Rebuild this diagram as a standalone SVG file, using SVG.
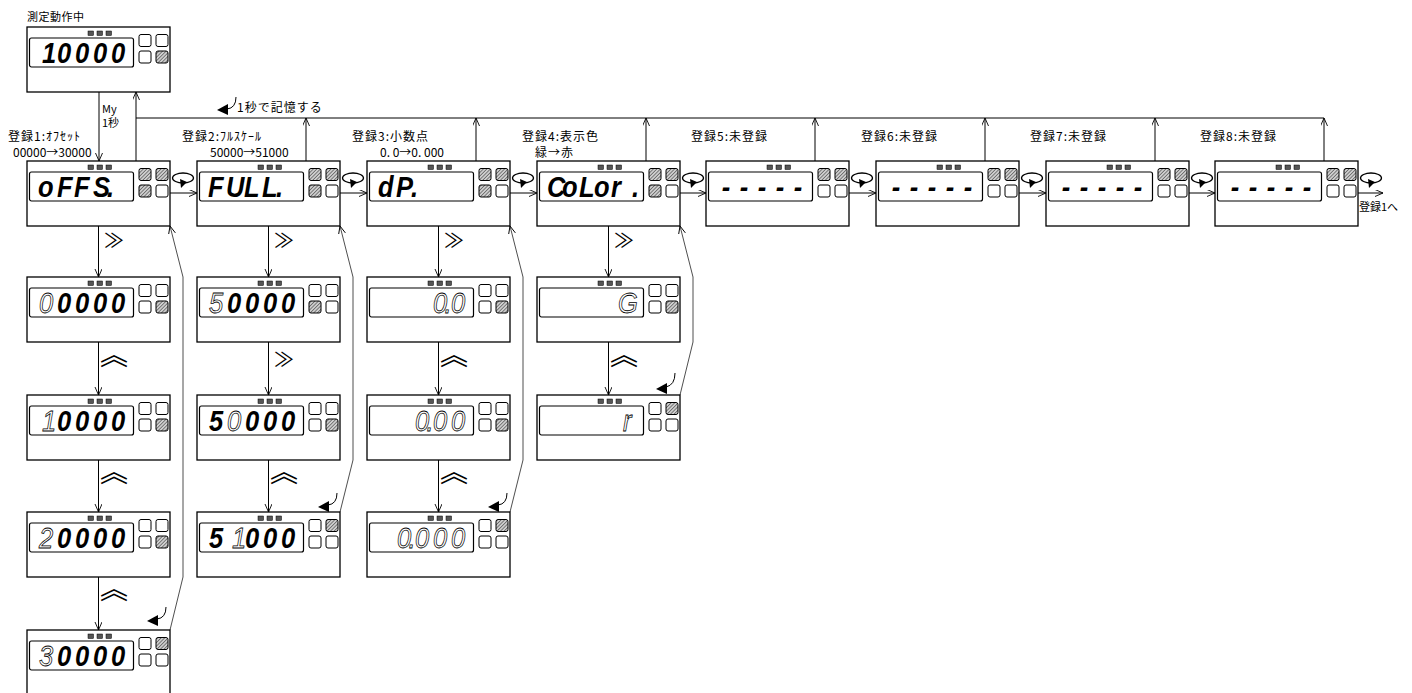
<svg xmlns="http://www.w3.org/2000/svg" xmlns:xlink="http://www.w3.org/1999/xlink" width="1412" height="693" viewBox="0 0 1412 693">
<style>
.bx{fill:#fff;stroke:#000;stroke-width:1.3}
.ind{fill:#555;stroke:#000;stroke-width:.5}
.dsp{fill:none;stroke:#000;stroke-width:1.2}
.s{fill:#fff;stroke:#000;stroke-width:1}
.h{fill:url(#hatch)}
.seg{font-family:"Liberation Sans",Arial,sans-serif;font-size:30px;font-weight:bold;font-style:italic;fill:#000}
.o{font-weight:normal;fill:#fff;stroke:#000;stroke-width:.8}
.jp{font-family:"Noto Sans CJK JP",sans-serif;font-size:12px;fill:#000}
.lb{letter-spacing:1px}
.ln{fill:none;stroke:#000;stroke-width:1}
.rt{fill:none;stroke:#222;stroke-width:.8}
.chev{font-family:"Noto Sans CJK JP",sans-serif;font-size:20px;text-anchor:middle;fill:#000}
.up{font-size:28px}
.loop{fill:none;stroke:#000;stroke-width:1.3}
.fk{fill:#000;stroke:none}
</style>
<defs>
<pattern id="hatch" width="2.5" height="2.5" patternUnits="userSpaceOnUse" patternTransform="rotate(45)"><rect width="2.5" height="2.5" fill="#cfcfcf"/><line x1="0" y1="0" x2="0" y2="2.5" stroke="#333" stroke-width="1.1"/></pattern>
<marker id="ar" markerWidth="10" markerHeight="8" refX="8" refY="3.5" orient="auto" markerUnits="userSpaceOnUse"><path d="M0,0 L8,3.5 L0,7" fill="none" stroke="#000" stroke-width="0.9"/></marker>
<g id="frame"><rect class="bx" width="143" height="65"/><rect class="ind" x="61" y="4" width="5.5" height="4.5"/><rect class="ind" x="70" y="4" width="5.5" height="4.5"/><rect class="ind" x="79" y="4" width="5.5" height="4.5"/><rect class="dsp" x="2.5" y="11" width="104" height="29" rx="2"/></g>
</defs>
<rect width="1412" height="693" fill="#fff"/>

<g id="labels">
<text class="jp" x="27" y="21" style="font-size:11px;letter-spacing:.5px">測定動作中</text>
<text class="jp" x="102" y="113" style="font-size:11px">My</text>
<text class="jp" x="102" y="127" style="font-size:11px">1秒</text>
<text class="jp lb" x="237" y="112">1秒で記憶する</text>
<text class="jp lb" x="8" y="141">登録1:ｵﾌｾｯﾄ</text>
<text class="jp" x="13" y="157">00000→30000</text>
<text class="jp lb" x="182" y="141">登録2:ﾌﾙｽｹｰﾙ</text>
<text class="jp" x="210" y="157">50000→51000</text>
<text class="jp lb" x="352" y="141">登録3:小数点</text>
<text class="jp" x="380" y="157">0. 0→0. 000</text>
<text class="jp lb" x="522" y="141">登録4:表示色</text>
<text class="jp lb" x="535" y="157">緑→赤</text>
<text class="jp lb" x="691" y="141">登録5:未登録</text>
<text class="jp lb" x="861" y="141">登録6:未登録</text>
<text class="jp lb" x="1030" y="141">登録7:未登録</text>
<text class="jp lb" x="1200" y="141">登録8:未登録</text>
<text class="jp" x="1359" y="211" style="font-size:11px">登録1へ</text>
</g>

<g id="connectors">
<line class="ln" x1="99" y1="92" x2="99" y2="161" marker-end="url(#ar)"/>
<line class="ln" x1="136" y1="161" x2="136" y2="92" marker-end="url(#ar)"/>
<line class="ln" x1="136" y1="118" x2="1324" y2="118"/>
<line class="ln" x1="306" y1="161" x2="306" y2="118" marker-end="url(#ar)"/>
<line class="ln" x1="476" y1="161" x2="476" y2="118" marker-end="url(#ar)"/>
<line class="ln" x1="646" y1="161" x2="646" y2="118" marker-end="url(#ar)"/>
<line class="ln" x1="815" y1="161" x2="815" y2="118" marker-end="url(#ar)"/>
<line class="ln" x1="985" y1="161" x2="985" y2="118" marker-end="url(#ar)"/>
<line class="ln" x1="1155" y1="161" x2="1155" y2="118" marker-end="url(#ar)"/>
<line class="ln" x1="1324" y1="161" x2="1324" y2="118" marker-end="url(#ar)"/>
<line class="ln" x1="170" y1="193" x2="197" y2="193" marker-end="url(#ar)"/>
<line class="ln" x1="340" y1="193" x2="367" y2="193" marker-end="url(#ar)"/>
<line class="ln" x1="510" y1="193" x2="537" y2="193" marker-end="url(#ar)"/>
<line class="ln" x1="680" y1="193" x2="706" y2="193" marker-end="url(#ar)"/>
<line class="ln" x1="849" y1="193" x2="876" y2="193" marker-end="url(#ar)"/>
<line class="ln" x1="1019" y1="193" x2="1046" y2="193" marker-end="url(#ar)"/>
<line class="ln" x1="1189" y1="193" x2="1215" y2="193" marker-end="url(#ar)"/>
<line class="ln" x1="1358" y1="193" x2="1383" y2="193" marker-end="url(#ar)"/>
<g id="loops">
<ellipse class="loop" cx="183" cy="178" rx="10.5" ry="5"/><polygon class="fk" points="180,179 187,182 181,188"/>
<ellipse class="loop" cx="353" cy="178" rx="10.5" ry="5"/><polygon class="fk" points="350,179 357,182 351,188"/>
<ellipse class="loop" cx="523" cy="178" rx="10.5" ry="5"/><polygon class="fk" points="520,179 527,182 521,188"/>
<ellipse class="loop" cx="693" cy="178" rx="10.5" ry="5"/><polygon class="fk" points="690,179 697,182 691,188"/>
<ellipse class="loop" cx="862" cy="178" rx="10.5" ry="5"/><polygon class="fk" points="859,179 866,182 860,188"/>
<ellipse class="loop" cx="1032" cy="178" rx="10.5" ry="5"/><polygon class="fk" points="1029,179 1036,182 1030,188"/>
<ellipse class="loop" cx="1202" cy="178" rx="10.5" ry="5"/><polygon class="fk" points="1199,179 1206,182 1200,188"/>
<ellipse class="loop" cx="1371" cy="178" rx="10.5" ry="5"/><polygon class="fk" points="1368,179 1375,182 1369,188"/>
</g>
<line class="ln" x1="98.5" y1="226" x2="98.5" y2="277" marker-end="url(#ar)"/>
<line class="ln" x1="98.5" y1="342" x2="98.5" y2="395" marker-end="url(#ar)"/>
<line class="ln" x1="98.5" y1="460" x2="98.5" y2="512" marker-end="url(#ar)"/>
<line class="ln" x1="98.5" y1="577" x2="98.5" y2="630" marker-end="url(#ar)"/>
<line class="ln" x1="268.5" y1="226" x2="268.5" y2="277" marker-end="url(#ar)"/>
<line class="ln" x1="268.5" y1="342" x2="268.5" y2="395" marker-end="url(#ar)"/>
<line class="ln" x1="268.5" y1="460" x2="268.5" y2="512" marker-end="url(#ar)"/>
<line class="ln" x1="438.5" y1="226" x2="438.5" y2="277" marker-end="url(#ar)"/>
<line class="ln" x1="438.5" y1="342" x2="438.5" y2="395" marker-end="url(#ar)"/>
<line class="ln" x1="438.5" y1="460" x2="438.5" y2="512" marker-end="url(#ar)"/>
<line class="ln" x1="608.5" y1="226" x2="608.5" y2="277" marker-end="url(#ar)"/>
<line class="ln" x1="608.5" y1="342" x2="608.5" y2="395" marker-end="url(#ar)"/>
<text class="chev" x="114" y="248">≫</text>
<text class="chev up" x="114" y="365">︽</text>
<text class="chev up" x="114" y="482">︽</text>
<text class="chev up" x="114" y="599">︽</text>
<text class="chev" x="284" y="248">≫</text>
<text class="chev" x="284" y="367">≫</text>
<text class="chev up" x="284" y="482">︽</text>
<text class="chev" x="454" y="248">≫</text>
<text class="chev up" x="454" y="365">︽</text>
<text class="chev up" x="454" y="482">︽</text>
<text class="chev" x="624" y="248">≫</text>
<text class="chev up" x="624" y="365">︽</text>
<polyline class="rt" points="170,630 183,577 183,277 170,226" marker-end="url(#ar)"/>
<polyline class="rt" points="340,512 353,460 353,277 340,226" marker-end="url(#ar)"/>
<polyline class="rt" points="510,512 523,460 523,277 510,226" marker-end="url(#ar)"/>
<polyline class="rt" points="680,395 693,342 693,277 680,226" marker-end="url(#ar)"/>
<g id="hold-marks">
<path class="ln" d="M236,97 Q236,108 227,109"/><polygon class="fk" points="217,110 228,104 228,115"/>
<path class="ln" d="M166,607 Q166,618 157,619"/><polygon class="fk" points="147,621 158,615 158,626"/>
<path class="ln" d="M337,493 Q337,504 328,505"/><polygon class="fk" points="318,507 329,501 329,512"/>
<path class="ln" d="M507,493 Q507,504 498,505"/><polygon class="fk" points="488,507 499,501 499,512"/>
<path class="ln" d="M675,373 Q675,385 666,387"/><polygon class="fk" points="656,389 667,383 667,394"/>
</g>
</g>

<g id="n-top" transform="translate(27,27)"><use href="#frame"/><rect class="s" x="112" y="7.5" width="12" height="12" rx="2"/><rect class="s" x="129" y="7.5" width="12" height="12" rx="2"/><rect class="s" x="112" y="24" width="12" height="12" rx="2"/><rect class="s h" x="129" y="24" width="12" height="12" rx="2"/><text class="seg" transform="scale(.85 1)" x="17.6 35.3 56.5 77.6 98.8" y="36">10000</text></g>

<g id="n-r1c1" transform="translate(27,161)"><use href="#frame"/><rect class="s h" x="112" y="7.5" width="12" height="12" rx="2"/><rect class="s h" x="129" y="7.5" width="12" height="12" rx="2"/><rect class="s h" x="112" y="24" width="12" height="12" rx="2"/><rect class="s" x="129" y="24" width="12" height="12" rx="2"/><text class="seg" transform="scale(.85 1)" x="12.9 35.3 55.3 77.6 94.1" y="36">oFFS.</text></g>
<g id="n-r1c2" transform="translate(197,161)"><use href="#frame"/><rect class="s h" x="112" y="7.5" width="12" height="12" rx="2"/><rect class="s h" x="129" y="7.5" width="12" height="12" rx="2"/><rect class="s h" x="112" y="24" width="12" height="12" rx="2"/><rect class="s" x="129" y="24" width="12" height="12" rx="2"/><text class="seg" transform="scale(.85 1)" x="12.9 34.1 55.3 76.5 92.9" y="36">FULL.</text></g>
<g id="n-r1c3" transform="translate(367,161)"><use href="#frame"/><rect class="s h" x="112" y="7.5" width="12" height="12" rx="2"/><rect class="s h" x="129" y="7.5" width="12" height="12" rx="2"/><rect class="s h" x="112" y="24" width="12" height="12" rx="2"/><rect class="s" x="129" y="24" width="12" height="12" rx="2"/><text class="seg" transform="scale(.85 1)" x="12.9 34.1 51.8" y="36">dP.</text></g>
<g id="n-r1c4" transform="translate(537,161)"><use href="#frame"/><rect class="s h" x="112" y="7.5" width="12" height="12" rx="2"/><rect class="s h" x="129" y="7.5" width="12" height="12" rx="2"/><rect class="s h" x="112" y="24" width="12" height="12" rx="2"/><rect class="s" x="129" y="24" width="12" height="12" rx="2"/><text class="seg" transform="scale(.85 1)" x="11.8 29.4 49.4 67.1 87.1 111.8" y="36">CoLor.</text></g>
<g id="n-r1c5" transform="translate(706,161)"><use href="#frame"/><rect class="s h" x="112" y="7.5" width="12" height="12" rx="2"/><rect class="s h" x="129" y="7.5" width="12" height="12" rx="2"/><rect class="s" x="112" y="24" width="12" height="12" rx="2"/><rect class="s" x="129" y="24" width="12" height="12" rx="2"/><text class="seg" transform="scale(.85 1)" x="18.5 39.7 60.9 82.1 103.3" y="36">-----</text></g>
<g id="n-r1c6" transform="translate(876,161)"><use href="#frame"/><rect class="s h" x="112" y="7.5" width="12" height="12" rx="2"/><rect class="s h" x="129" y="7.5" width="12" height="12" rx="2"/><rect class="s" x="112" y="24" width="12" height="12" rx="2"/><rect class="s" x="129" y="24" width="12" height="12" rx="2"/><text class="seg" transform="scale(.85 1)" x="18.5 39.7 60.9 82.1 103.3" y="36">-----</text></g>
<g id="n-r1c7" transform="translate(1046,161)"><use href="#frame"/><rect class="s h" x="112" y="7.5" width="12" height="12" rx="2"/><rect class="s h" x="129" y="7.5" width="12" height="12" rx="2"/><rect class="s" x="112" y="24" width="12" height="12" rx="2"/><rect class="s" x="129" y="24" width="12" height="12" rx="2"/><text class="seg" transform="scale(.85 1)" x="18.5 39.7 60.9 82.1 103.3" y="36">-----</text></g>
<g id="n-r1c8" transform="translate(1215,161)"><use href="#frame"/><rect class="s h" x="112" y="7.5" width="12" height="12" rx="2"/><rect class="s h" x="129" y="7.5" width="12" height="12" rx="2"/><rect class="s" x="112" y="24" width="12" height="12" rx="2"/><rect class="s" x="129" y="24" width="12" height="12" rx="2"/><text class="seg" transform="scale(.85 1)" x="18.5 39.7 60.9 82.1 103.3" y="36">-----</text></g>

<g id="n-c1r2" transform="translate(27,277)"><use href="#frame"/><rect class="s" x="112" y="7.5" width="12" height="12" rx="2"/><rect class="s" x="129" y="7.5" width="12" height="12" rx="2"/><rect class="s" x="112" y="24" width="12" height="12" rx="2"/><rect class="s h" x="129" y="24" width="12" height="12" rx="2"/><text class="seg" transform="scale(.85 1)" x="14.1 35.3 56.5 77.6 98.8" y="36"><tspan class="o">0</tspan>0000</text></g>
<g id="n-c1r3" transform="translate(27,395)"><use href="#frame"/><rect class="s" x="112" y="7.5" width="12" height="12" rx="2"/><rect class="s" x="129" y="7.5" width="12" height="12" rx="2"/><rect class="s" x="112" y="24" width="12" height="12" rx="2"/><rect class="s h" x="129" y="24" width="12" height="12" rx="2"/><text class="seg" transform="scale(.85 1)" x="17.6 35.3 56.5 77.6 98.8" y="36"><tspan class="o">1</tspan>0000</text></g>
<g id="n-c1r4" transform="translate(27,512)"><use href="#frame"/><rect class="s" x="112" y="7.5" width="12" height="12" rx="2"/><rect class="s" x="129" y="7.5" width="12" height="12" rx="2"/><rect class="s" x="112" y="24" width="12" height="12" rx="2"/><rect class="s h" x="129" y="24" width="12" height="12" rx="2"/><text class="seg" transform="scale(.85 1)" x="14.1 35.3 56.5 77.6 98.8" y="36"><tspan class="o">2</tspan>0000</text></g>
<g id="n-c1r5" transform="translate(27,630)"><use href="#frame"/><rect class="s" x="112" y="7.5" width="12" height="12" rx="2"/><rect class="s h" x="129" y="7.5" width="12" height="12" rx="2"/><rect class="s" x="112" y="24" width="12" height="12" rx="2"/><rect class="s" x="129" y="24" width="12" height="12" rx="2"/><text class="seg" transform="scale(.85 1)" x="14.1 35.3 56.5 77.6 98.8" y="36"><tspan class="o">3</tspan>0000</text></g>

<g id="n-c2r2" transform="translate(197,277)"><use href="#frame"/><rect class="s" x="112" y="7.5" width="12" height="12" rx="2"/><rect class="s" x="129" y="7.5" width="12" height="12" rx="2"/><rect class="s h" x="112" y="24" width="12" height="12" rx="2"/><rect class="s" x="129" y="24" width="12" height="12" rx="2"/><text class="seg" transform="scale(.85 1)" x="14.1 35.3 56.5 77.6 98.8" y="36"><tspan class="o">5</tspan>0000</text></g>
<g id="n-c2r3" transform="translate(197,395)"><use href="#frame"/><rect class="s" x="112" y="7.5" width="12" height="12" rx="2"/><rect class="s" x="129" y="7.5" width="12" height="12" rx="2"/><rect class="s" x="112" y="24" width="12" height="12" rx="2"/><rect class="s h" x="129" y="24" width="12" height="12" rx="2"/><text class="seg" transform="scale(.85 1)" x="14.1 35.3 56.5 77.6 98.8" y="36">5<tspan class="o">0</tspan>000</text></g>
<g id="n-c2r4" transform="translate(197,512)"><use href="#frame"/><rect class="s" x="112" y="7.5" width="12" height="12" rx="2"/><rect class="s h" x="129" y="7.5" width="12" height="12" rx="2"/><rect class="s" x="112" y="24" width="12" height="12" rx="2"/><rect class="s" x="129" y="24" width="12" height="12" rx="2"/><text class="seg" transform="scale(.85 1)" x="14.1 41.2 56.5 77.6 98.8" y="36">5<tspan class="o">1</tspan>000</text></g>

<g id="n-c3r2" transform="translate(367,277)"><use href="#frame"/><rect class="s" x="112" y="7.5" width="12" height="12" rx="2"/><rect class="s" x="129" y="7.5" width="12" height="12" rx="2"/><rect class="s" x="112" y="24" width="12" height="12" rx="2"/><rect class="s h" x="129" y="24" width="12" height="12" rx="2"/><text class="seg" transform="scale(.85 1)" x="77.6 91.2 98.8" y="36"><tspan class="o">0.0</tspan></text></g>
<g id="n-c3r3" transform="translate(367,395)"><use href="#frame"/><rect class="s" x="112" y="7.5" width="12" height="12" rx="2"/><rect class="s" x="129" y="7.5" width="12" height="12" rx="2"/><rect class="s" x="112" y="24" width="12" height="12" rx="2"/><rect class="s h" x="129" y="24" width="12" height="12" rx="2"/><text class="seg" transform="scale(.85 1)" x="56.5 70 77.6 98.8" y="36"><tspan class="o">0.00</tspan></text></g>
<g id="n-c3r4" transform="translate(367,512)"><use href="#frame"/><rect class="s" x="112" y="7.5" width="12" height="12" rx="2"/><rect class="s h" x="129" y="7.5" width="12" height="12" rx="2"/><rect class="s" x="112" y="24" width="12" height="12" rx="2"/><rect class="s" x="129" y="24" width="12" height="12" rx="2"/><text class="seg" transform="scale(.85 1)" x="35.3 48.8 56.5 77.6 98.8" y="36"><tspan class="o">0.000</tspan></text></g>

<g id="n-c4r2" transform="translate(537,277)"><use href="#frame"/><rect class="s" x="112" y="7.5" width="12" height="12" rx="2"/><rect class="s" x="129" y="7.5" width="12" height="12" rx="2"/><rect class="s" x="112" y="24" width="12" height="12" rx="2"/><rect class="s h" x="129" y="24" width="12" height="12" rx="2"/><text class="seg" transform="scale(.85 1)" x="95.3" y="36"><tspan class="o">G</tspan></text></g>
<g id="n-c4r3" transform="translate(537,395)"><use href="#frame"/><rect class="s" x="112" y="7.5" width="12" height="12" rx="2"/><rect class="s h" x="129" y="7.5" width="12" height="12" rx="2"/><rect class="s" x="112" y="24" width="12" height="12" rx="2"/><rect class="s" x="129" y="24" width="12" height="12" rx="2"/><text class="seg" transform="scale(.85 1)" x="101.2" y="36"><tspan class="o">r</tspan></text></g>
</svg>
